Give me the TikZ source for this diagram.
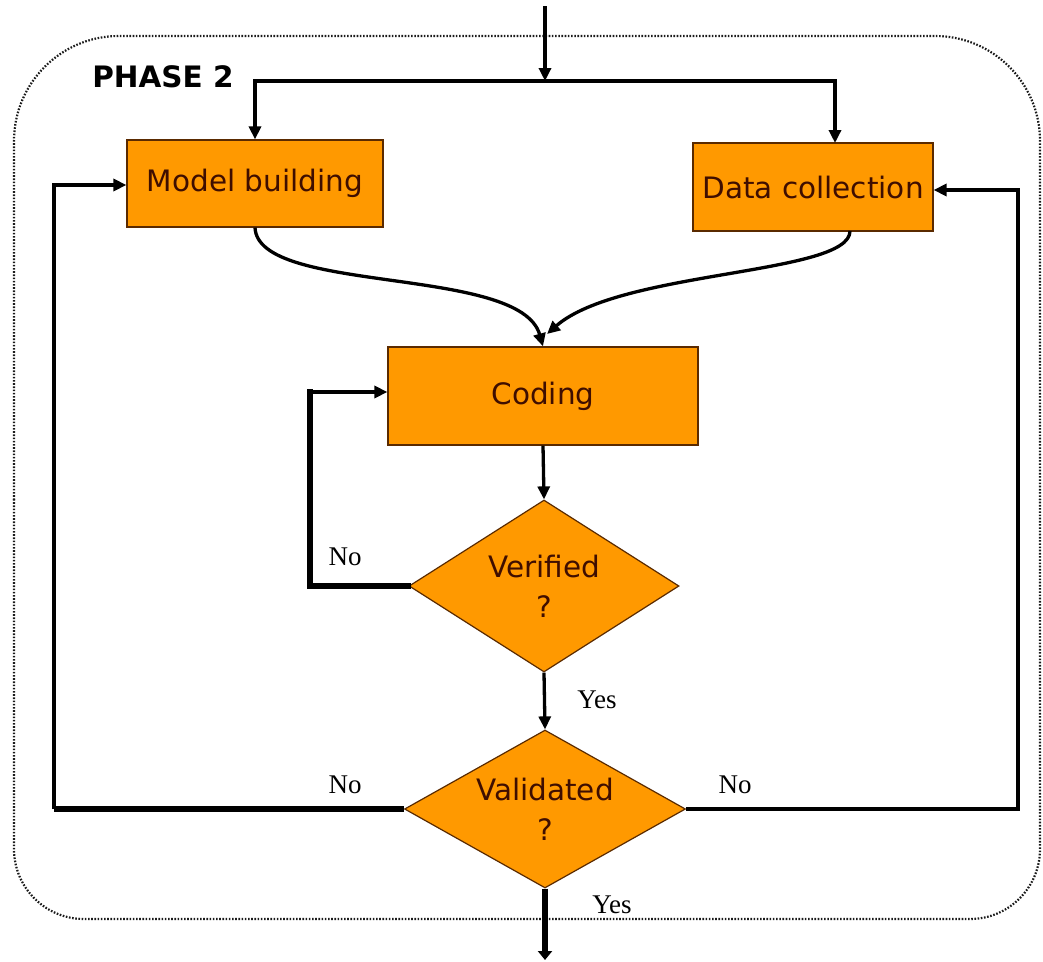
\documentclass[tikz,border=0pt]{standalone}
\usepackage{fontspec}
\setmainfont{DejaVu Sans}
\newfontfamily\labelfont{Liberation Serif}
\usetikzlibrary{arrows.meta,shapes.geometric,calc}
\definecolor{boxfill}{HTML}{FF9900}
\definecolor{boxtext}{HTML}{3F0E00}
\definecolor{boxline}{HTML}{5A2A00}
\definecolor{dotline}{HTML}{1A1A1A}

\begin{document}
\begin{tikzpicture}[x=1pt,y=-1pt,
  stepbox/.style={draw=boxline, line width=1.2pt, fill=boxfill, text=boxtext,
    font=\fontsize{29.5}{34}\selectfont, inner sep=0pt},
  decision/.style={diamond, draw=boxline, line width=1.2pt, fill=boxfill, text=boxtext,
    font=\fontsize{29.5}{40}\selectfont, align=center, inner sep=0pt},
  flow/.style={line width=3.3pt, -{Triangle[length=13pt,width=12pt]}},
  heavy/.style={line width=5.5pt},
  answer/.style={font=\labelfont\fontsize{27}{30}\selectfont},
  border/.style={draw=dotline, line width=2.2pt, dash pattern=on 1.6pt off 1.6pt}
]
\useasboundingbox (0,0) rectangle (1043,961);

% phase frame
\draw[border, rounded corners=105pt] (14,500) |- (545,36) -| (1040,500);
\draw[border, rounded corners=70pt] (14,499) |- (545,919) -| (1040,499);
\node[font=\bfseries\fontsize{29.5}{32}\selectfont, text=black] (phase) at (163,77) {PHASE 2};

% process steps
\node[stepbox, minimum width=256pt, minimum height=87pt] (mb) at (255,183.5) {Model building};
\node[stepbox, minimum width=240pt, minimum height=88pt] (dc) at (813,187) {Data collection};
\node[stepbox, minimum width=310pt, minimum height=98pt] (cod) at (543,396) {Coding};
\node[decision, aspect=1.57, minimum width=270pt, minimum height=172pt] (ver) at (544,586) {Verified\\?};
\node[decision, aspect=1.78, minimum width=281pt, minimum height=158pt] (val) at (545,809) {Validated\\?};

% entry and split
\coordinate (in) at (545,6);
\coordinate (split) at (545,81);
\coordinate (dcin) at (835,143);
\draw[flow] (in) -- (split);
\draw[flow] (split) -| (mb.north);
\draw[flow] (split) -| (dcin);

% merge into coding
\coordinate (dcout) at (850,231);
\coordinate (codtop) at (547,334);
\draw[flow] (mb.south) .. controls (258,295) and (520,265) .. (cod.north);
\draw[flow] (dcout) .. controls (850,275) and (620,270) .. (codtop);

% verification
\draw[flow] (cod.south) -- (ver.north);
\coordinate (vcorner) at (310,392);
\draw[heavy, line cap=rect] (ver.west) -| (vcorner);
\draw[flow] (vcorner) -- (cod.west |- vcorner);
\node[answer] (vno) at (345,557) {No};

% validation
\draw[flow] (ver.south) -- (val.north);
\node[answer] (vyes) at (597,700) {Yes};

\coordinate (ltop) at (54,185);
\draw[heavy] (val.west) -- (val.west -| ltop);
\draw[flow, line width=3.8pt] (val.west -| ltop) -- (ltop) -- (mb.west |- ltop);
\node[answer] (lno) at (345,785) {No};

\coordinate (rtop) at (1018,190);
\draw[flow] (val.east) -| (rtop) -- (dc.east |- rtop);
\node[answer] (rno) at (735,785) {No};

% exit
\coordinate (out) at (545,960);
\draw[heavy, -{Triangle[length=9pt,width=14pt]}] (val.south) -- (out);
\node[answer] (yes2) at (612,905) {Yes};
\end{tikzpicture}
\end{document}
